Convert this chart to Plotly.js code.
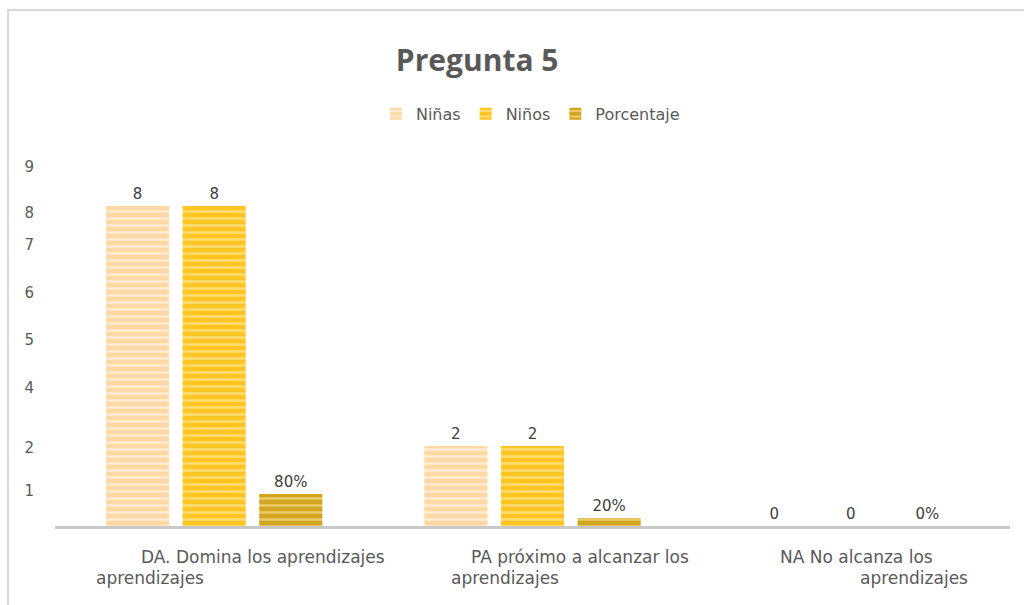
<!DOCTYPE html>
<html>
<head>
<meta charset="utf-8">
<script src="https://cdn.plot.ly/plotly-3.0.1.min.js"></script>
<style>
  html, body { margin: 0; padding: 0; background: #ffffff; }
  #frame { position: absolute; left: 7px; top: 9px; width: 1017px; height: 596px;
           border-left: 2px solid #d9d9d9; border-top: 2px solid #d9d9d9; box-sizing: border-box; }
  #chart { position: absolute; left: 0; top: 0; width: 1024px; height: 605px; }
</style>
</head>
<body>
<div id="frame"></div>
<div id="chart"></div>
<script>
// Data
var categories = ["DA. Domina los aprendizajes", "PA próximo a alcanzar los aprendizajes", "NA No alcanza los aprendizajes"];
var labelLine1 = ["DA. Domina los aprendizajes", "PA próximo a alcanzar los", "NA No alcanza los"];
var labelLine2 = ["aprendizajes", "aprendizajes", "aprendizajes"];
var ninas = [8, 2, 0];
var ninos = [8, 2, 0];
var porcentaje = [0.8, 0.2, 0];
var porcentajeText = ["80%", "20%", "0%"];
// tick labels as printed, and where the (slightly distorted) reference places them
var yTickText = ["1", "2", "4", "5", "6", "7", "8", "9"];
var yTickPos = [0.875, 1.95, 3.45, 4.65, 5.825, 7.025, 7.825, 8.975];

var labelFont = {family: "DejaVu Sans", size: 15, color: "#404040"};

function stripe(bg, fg) {
  return {shape: "-", bgcolor: bg, fgcolor: fg, fgopacity: 0.8, size: 7, solidity: 0.35};
}

var traces = [
  {type: "bar", name: "Niñas", x: categories, y: ninas, text: ninas.map(String),
   textposition: "outside", textfont: labelFont, cliponaxis: false, hoverinfo: "none",
   marker: {color: "#FFD8A6", pattern: stripe("#FFD8A6", "#FFF1DE"), line: {width: 0}}},
  {type: "bar", name: "Niños", x: categories, y: ninos, text: ninos.map(String),
   textposition: "outside", textfont: labelFont, cliponaxis: false, hoverinfo: "none",
   marker: {color: "#FFC522", pattern: stripe("#FFC522", "#FFE48A"), line: {width: 0}}},
  {type: "bar", name: "Porcentaje", x: categories, y: porcentaje, text: porcentajeText,
   textposition: "outside", textfont: labelFont, cliponaxis: false, hoverinfo: "none",
   marker: {color: "#D2A520", pattern: stripe("#D2A520", "#F2D67E"), line: {width: 0}}}
];

var offsets1 = [49, 47, 6];
var offsets2 = [-64, -28, 63];
var annotations = [];
for (var i = 0; i < categories.length; i++) {
  annotations.push({x: categories[i], y: 0, xref: "x", yref: "paper", text: labelLine1[i],
    showarrow: false, xanchor: "center", yanchor: "middle", xshift: offsets1[i], yshift: -31,
    font: {family: "DejaVu Sans", size: 17, color: "#595959"}});
  annotations.push({x: categories[i], y: 0, xref: "x", yref: "paper", text: labelLine2[i],
    showarrow: false, xanchor: "center", yanchor: "middle", xshift: offsets2[i], yshift: -52,
    font: {family: "DejaVu Sans", size: 17, color: "#595959"}});
}

var layout = {
  width: 1024, height: 605,
  paper_bgcolor: "rgba(0,0,0,0)", plot_bgcolor: "rgba(0,0,0,0)",
  margin: {l: 55, r: 14, t: 166, b: 79},
  title: {text: "<b>Pregunta 5</b>", x: 0.466, xanchor: "center", xref: "container",
          y: 0.9, yref: "container", yanchor: "middle",
          font: {family: "Open Sans", size: 30, color: "#595959"}},
  showlegend: true,
  legend: {orientation: "h", x: 0.518, xanchor: "center", xref: "container",
           y: 0.84, yref: "container", yanchor: "top",
           font: {family: "DejaVu Sans", size: 16, color: "#595959"},
           traceorder: "normal", itemwidth: 30},
  barmode: "group", bargap: 0.278, bargroupgap: 0.176,
  xaxis: {type: "category", showticklabels: false, ticks: "", showgrid: false, zeroline: false,
          showline: true, linecolor: "#c8c8c8", linewidth: 3, fixedrange: true},
  yaxis: {range: [0, 9], tickvals: yTickPos, ticktext: yTickText, showgrid: false,
          zeroline: false, showline: false, ticks: "", ticklabelstandoff: 20,
          tickfont: {family: "DejaVu Sans", size: 15, color: "#595959"}, fixedrange: true},
  annotations: annotations
};

Plotly.newPlot("chart", traces, layout, {displayModeBar: false, staticPlot: true});
</script>
</body>
</html>
